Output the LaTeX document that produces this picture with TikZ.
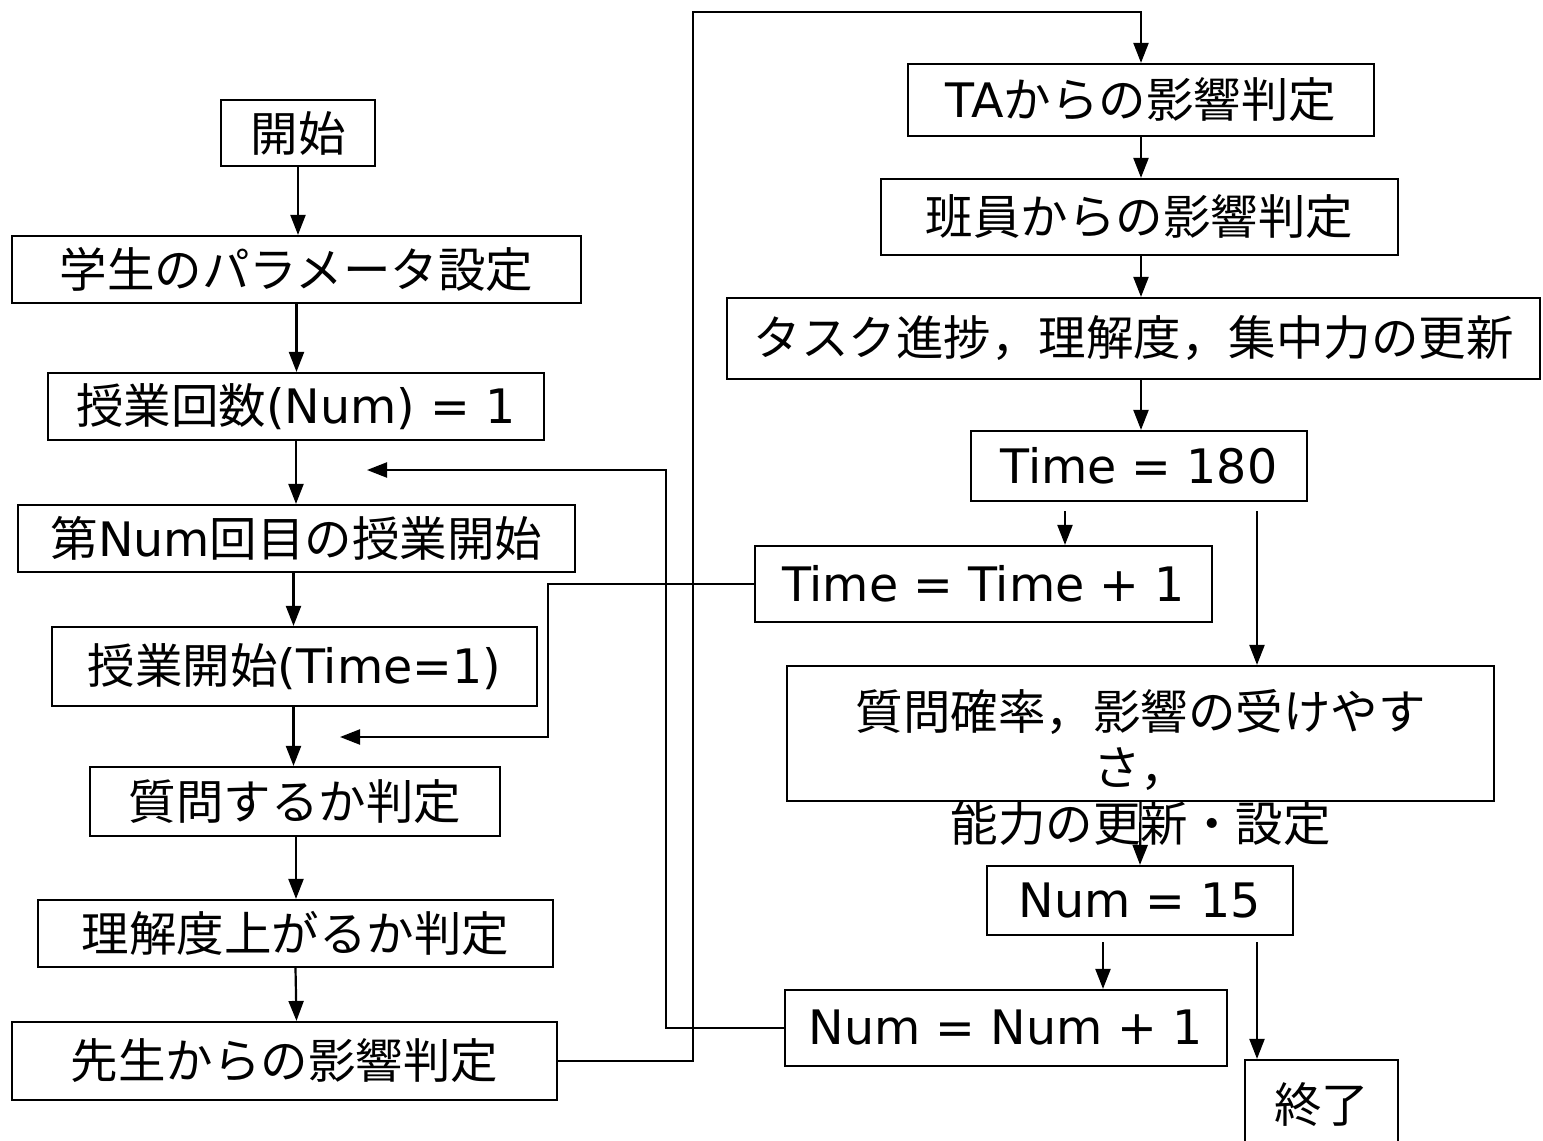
\documentclass[tikz,border=0pt]{standalone}
\usepackage{fontspec}
\setmainfont{Noto Sans CJK JP}
\newfontfamily\lat{DejaVu Sans}
\usetikzlibrary{arrows.meta,calc}
\begin{document}
\begin{tikzpicture}[x=1pt,y=-1pt,
  box/.style={draw,line width=2.2pt,inner sep=0pt,font=\fontsize{47.5}{56}\selectfont},
  arr/.style={line width=2.2pt,-{Triangle[length=20pt,width=15pt]}},
  ln/.style={line width=2.2pt}]
\useasboundingbox (0,0) rectangle (1543,1141);
% left column
\node[box,minimum width=154pt,minimum height=66pt] (start) at (298,133) {開始};
\node[box,minimum width=569pt,minimum height=67pt] (param) at (296.5,269.5) {学生のパラメータ設定};
\node[box,minimum width=496pt,minimum height=67pt] (num1) at (296,406.5) {授業回数{\lat (Num) = 1}};
\node[box,minimum width=557pt,minimum height=67pt] (numstart) at (296.5,538.5) {第{\lat Num}回目の授業開始};
\node[box,minimum width=485pt,minimum height=79pt] (timestart) at (294.5,666.5) {授業開始{\lat (Time=1)}};
\node[box,minimum width=410pt,minimum height=69pt] (question) at (295,801.5) {質問するか判定};
\node[box,minimum width=515pt,minimum height=67pt] (understand) at (295.5,933.5) {理解度上がるか判定};
\node[box,minimum width=545pt,minimum height=78pt] (teacher) at (284.5,1061) {先生からの影響判定};
% right column
\node[box,minimum width=466pt,minimum height=72pt] (ta) at (1141,100) {{\lat TA}からの影響判定};
\node[box,minimum width=517pt,minimum height=76pt] (team) at (1139.5,217) {班員からの影響判定};
\node[box,minimum width=813pt,minimum height=81pt] (update) at (1133.5,338.5) {タスク進捗，理解度，集中力の更新};
\node[box,minimum width=336pt,minimum height=70pt] (t180) at (1139,466) {\lat Time = 180};
\node[box,minimum width=457pt,minimum height=76pt] (tplus) at (983.5,584) {\lat Time = Time + 1};
\node[box,minimum width=707pt,minimum height=135pt] (prob) at (1140.5,733.5) {};
\node[font=\fontsize{47.5}{56}\selectfont,align=center,inner sep=0pt] (probtext) at (1140.5,767) {質問確率，影響の受けやす\\さ，\\能力の更新・設定};
\node[box,minimum width=306pt,minimum height=69pt] (n15) at (1140,900.5) {\lat Num = 15};
\node[box,minimum width=442pt,minimum height=76pt] (nplus) at (1006,1028) {\lat Num = Num + 1};
\node[box,minimum width=153pt,minimum height=90pt] (end) at (1321.5,1105) {終了};
% helper coordinates
\coordinate (xa) at (1065,0);
\coordinate (xb) at (1257,0);
\coordinate (xc) at (1103,0);
\coordinate (top) at (693,12);
\coordinate (ret1) at (548,737);
\coordinate (tip1) at (340,737);
\coordinate (ret2) at (666,470);
\coordinate (tip2) at (367,470);
% left chain
\draw[arr] (start.south) -- (start.south |- param.north);
\draw[arr] (param.south) -- (param.south |- num1.north);
\draw[arr] (num1.south) -- (num1.south |- numstart.north);
\draw[arr] ([xshift=-3pt]numstart.south) -- ([xshift=-3pt]numstart.south |- timestart.north);
\draw[arr] ([xshift=-1pt]timestart.south) -- ([xshift=-1pt]timestart.south |- question.north);
\draw[arr] ([xshift=1pt]question.south) -- ([xshift=1pt]question.south |- understand.north);
\draw[arr] (understand.south) -- ([xshift=1pt]understand.south |- teacher.north);
% teacher to TA
\draw[arr] (teacher.east) -- (teacher.east -| top) -- (top) -- (top -| ta.north) -- (ta.north);
% right chain
\draw[arr] (ta.south) -- (ta.south |- team.north);
\draw[arr] ([xshift=1.5pt]team.south) -- ([xshift=1.5pt]team.south |- update.north);
\draw[arr] ([xshift=7.5pt]update.south) -- ([xshift=7.5pt]update.south |- t180.north);
\draw[arr] ([yshift=-9pt]t180.south -| xa) -- (tplus.north -| xa);
\draw[arr] ([yshift=-9pt]t180.south -| xb) -- (prob.north -| xb);
\draw[arr] (prob.south) -- (n15.north);
\draw[arr] ([yshift=-6pt]n15.south -| xc) -- (nplus.north -| xc);
\draw[arr] ([yshift=-6pt]n15.south -| xb) -- (end.north -| xb);
% loops back
\draw[arr] (tplus.west) -- (tplus.west -| ret1) -- (ret1) -- (tip1);
\draw[arr] (nplus.west) -- (nplus.west -| ret2) -- (ret2) -- (tip2);
\end{tikzpicture}
\end{document}
